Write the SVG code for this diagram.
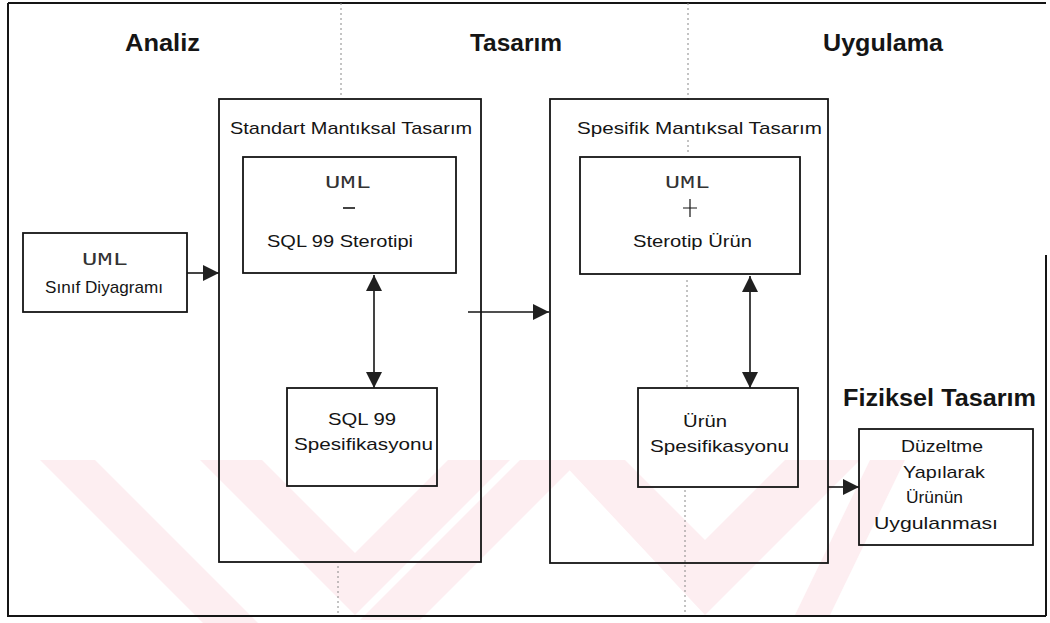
<svg xmlns="http://www.w3.org/2000/svg" width="1050" height="623" viewBox="0 0 1050 623">
<style>
.box{fill:none;stroke:#151515;stroke-width:1.8}
.frame{fill:none;stroke:#151515;stroke-width:2}
.hd{font-family:"Liberation Sans",Arial,sans-serif;font-weight:bold;font-size:23px;fill:#151515}
.t{font-family:"Liberation Sans",Arial,sans-serif;font-size:17px;fill:#151515}
.m{font-family:"Liberation Mono","Courier New",monospace;font-size:18px;fill:#333}
.div{stroke:#888;stroke-width:1;stroke-dasharray:2 3;fill:none}
.ln{stroke:#151515;stroke-width:1.6;fill:none}
.wm{fill:#fdeef1}
</style>
<defs>
<marker id="ahb" viewBox="0 0 10 10" refX="10" refY="5" markerWidth="18" markerHeight="16" markerUnits="userSpaceOnUse" orient="auto-start-reverse">
<path d="M0,0 L10,5 L0,10 z" fill="#202020"/>
</marker>
</defs>
<g id="watermark">
<polygon class="wm" points="40,460 95,460 258,623 203,623"/>
<polygon class="wm" points="200,460 262,460 355,553 448,460 510,460 355,615"/>
<polygon class="wm" points="520,460 580,460 420,620 360,620"/>
<polygon class="wm" points="560,460 625,460 705,540 785,460 860,460 705,615"/>
<polygon class="wm" points="870,460 905,460 830,615 795,615"/>
</g>
<g id="frame">
<path class="frame" d="M8,3 H1046 M8,3 V616 H1046 M1046,255 V616"/>
<path class="div" d="M341,3 V97 M338,566 V615"/>
<path class="div" d="M688,3 V100 M688,140 V152 M687,280 V390 M685,490 V615"/>
</g>
<g id="heading-analiz"><text class="hd" x="125" y="51" textLength="75" lengthAdjust="spacingAndGlyphs">Analiz</text></g>
<g id="heading-tasarim"><text class="hd" x="470" y="51" textLength="92" lengthAdjust="spacingAndGlyphs">Tasarım</text></g>
<g id="heading-uygulama"><text class="hd" x="823" y="51" textLength="120" lengthAdjust="spacingAndGlyphs">Uygulama</text></g>
<g id="heading-fiziksel"><text class="hd" x="843" y="406" textLength="193" lengthAdjust="spacingAndGlyphs">Fiziksel Tasarım</text></g>
<g id="uml-sinif">
<rect class="box" x="23" y="233" width="164" height="79"/>
<text class="m" x="82" y="265" textLength="46" lengthAdjust="spacingAndGlyphs">UML</text>
<text class="t" x="45" y="293" textLength="118" lengthAdjust="spacingAndGlyphs">Sınıf Diyagramı</text>
</g>
<g id="standart">
<rect class="box" x="219" y="99" width="262" height="463"/>
<text class="t" x="230" y="134" textLength="242" lengthAdjust="spacingAndGlyphs">Standart Mantıksal Tasarım</text>
</g>
<g id="uml-sql">
<rect class="box" x="243" y="157" width="213" height="116"/>
<text class="m" x="325" y="188" textLength="46" lengthAdjust="spacingAndGlyphs">UML</text>
<path class="ln" d="M343,208 H355"/>
<text class="t" x="267" y="247" textLength="146" lengthAdjust="spacingAndGlyphs">SQL 99 Sterotipi</text>
</g>
<g id="sql-spec">
<rect class="box" x="287" y="388" width="150" height="98"/>
<text class="t" x="328" y="425" textLength="68" lengthAdjust="spacingAndGlyphs">SQL 99</text>
<text class="t" x="294" y="450" textLength="139" lengthAdjust="spacingAndGlyphs">Spesifikasyonu</text>
</g>
<g id="spesifik">
<rect class="box" x="550" y="99" width="278" height="464"/>
<text class="t" x="577" y="134" textLength="245" lengthAdjust="spacingAndGlyphs">Spesifik Mantıksal Tasarım</text>
</g>
<g id="uml-urun">
<rect class="box" x="580" y="157" width="220" height="117"/>
<text class="m" x="665" y="188" textLength="45" lengthAdjust="spacingAndGlyphs">UML</text>
<path class="ln" d="M683,208 H697 M690,199 V217" style="stroke-width:1.2"/>
<text class="t" x="633" y="247" textLength="119" lengthAdjust="spacingAndGlyphs">Sterotip Ürün</text>
</g>
<g id="urun-spec">
<rect class="box" x="638" y="388" width="160" height="99"/>
<text class="t" x="683" y="427" textLength="44" lengthAdjust="spacingAndGlyphs">Ürün</text>
<text class="t" x="650" y="452" textLength="139" lengthAdjust="spacingAndGlyphs">Spesifikasyonu</text>
</g>
<g id="duzeltme">
<rect class="box" x="859" y="429" width="174" height="116"/>
<text class="t" x="901" y="452" textLength="82" lengthAdjust="spacingAndGlyphs">Düzeltme</text>
<text class="t" x="903" y="478" textLength="82" lengthAdjust="spacingAndGlyphs">Yapılarak</text>
<text class="t" x="906" y="503" textLength="57" lengthAdjust="spacingAndGlyphs">Ürünün</text>
<text class="t" x="874" y="529" textLength="124" lengthAdjust="spacingAndGlyphs">Uygulanması</text>
</g>
<g id="connectors">
<line class="ln" x1="187" y1="273" x2="219" y2="273" marker-end="url(#ahb)"/>
<line class="ln" x1="374" y1="275" x2="374" y2="388" marker-start="url(#ahb)" marker-end="url(#ahb)"/>
<line class="ln" x1="468" y1="312" x2="549" y2="312" marker-end="url(#ahb)"/>
<line class="ln" x1="750" y1="276" x2="750" y2="388" marker-start="url(#ahb)" marker-end="url(#ahb)"/>
<line class="ln" x1="828" y1="487" x2="859" y2="487" marker-end="url(#ahb)"/>
</g>
</svg>
